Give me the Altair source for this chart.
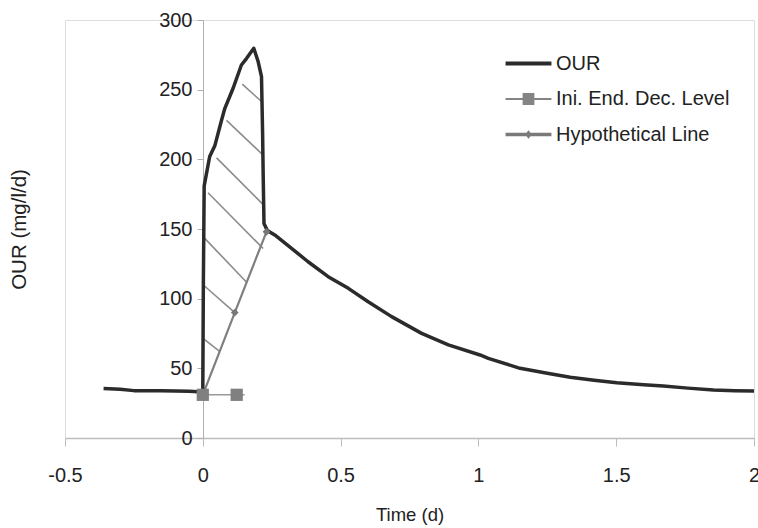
import altair as alt
import pandas as pd

FONT = "Liberation Sans"

# OUR curve
our_x = [-0.36, -0.3, -0.25, -0.15, -0.05, 0.0, 0.002, 0.005, 0.025, 0.044, 0.068, 0.08, 0.11, 0.14,
         0.159, 0.185, 0.201, 0.213, 0.217, 0.219, 0.222, 0.234, 0.261, 0.322, 0.382, 0.455, 0.528,
         0.6, 0.685, 0.794, 0.891, 1.006, 1.036, 1.151, 1.25, 1.333, 1.42, 1.502, 1.6, 1.671, 1.76,
         1.853, 1.93, 2.0]
our_y = [35.5, 35, 34, 34, 33.5, 33, 110, 181, 202, 210, 228, 236.6, 251, 267.7,
         272.5, 279.7, 270, 259.3, 218.7, 190, 154, 149, 145.7, 136.1, 126.5, 115.8, 107.4,
         97.8, 87.1, 75.1, 66.8, 59.6, 57.2, 50, 46.5, 43.6, 41.5, 39.7, 38.3, 37.3, 35.8,
         34.5, 34, 33.7]

# Initial / end decrease level
ini_x = [0.0, 0.123]
ini_y = [31, 31]
ini_line_x = [0.0, 0.152]

# Hypothetical line
hyp_x = [0.0, 0.116, 0.231]
hyp_y = [31, 90, 148]

# Hatching segments
hatch_x1 = [0.143, 0.086, 0.050, 0.019, 0.001, 0.001, 0.001]
hatch_y1 = [254, 228, 201, 176, 144.5, 110, 71.5]
hatch_x2 = [0.213, 0.219, 0.219, 0.219, 0.158, 0.116, 0.062]
hatch_y2 = [241.5, 203, 167.5, 136, 112, 90, 62]

series = ["OUR", "Ini. End. Dec. Level", "Hypothetical Line"]
series_colors = ["#2b2b2b", "#848484", "#7a7a7a"]
legend_paths = [
    "M-1.48,-0.13H1.48V0.13H-1.48Z",
    "M-1.48,-0.06H1.48V0.06H-1.48Z M-0.38,-0.38H0.38V0.38H-0.38Z",
    "M-1.48,-0.11H1.48V0.11H-1.48Z M0,-0.28L0.22,0L0,0.28L-0.22,0Z",
]

our_df = pd.DataFrame({"x": our_x, "y": our_y, "i": range(len(our_x))})
ini_df = pd.DataFrame({"x": ini_x, "y": ini_y})
ini_line_df = pd.DataFrame({"x": ini_line_x, "y": ini_y})
hyp_df = pd.DataFrame({"x": hyp_x, "y": hyp_y})
hatch_df = pd.DataFrame({"x": hatch_x1, "y": hatch_y1, "x2": hatch_x2, "y2": hatch_y2})
legend_df = pd.DataFrame({"series": series, "x": [0, 0, 0], "y": [0, 0, 0]})

xscale = alt.Scale(domain=[-0.5, 2], nice=False, zero=False)
yscale = alt.Scale(domain=[0, 300], nice=False)

xaxis = alt.Axis(
    title="Time (d)", values=[-0.5, 0, 0.5, 1, 1.5, 2], labelExpr="'' + datum.value", grid=False,
    domainColor="#bdbdbd", domainWidth=1.5, tickColor="#bdbdbd", tickSize=8, tickWidth=1,
    labelFont=FONT, labelFontSize=20, labelColor="#222222", labelPadding=19,
    labelFlush=False, labelOverlap=False,
    titleFont=FONT, titleFontSize=18.5, titleFontWeight="normal", titleColor="#222222",
    titleY=76, titleBaseline="middle",
)
yaxis = alt.Axis(
    title="OUR (mg/l/d)", values=[0, 50, 100, 150, 200, 250, 300], grid=False,
    offset=-138, domainColor="#b0b0b0", domainWidth=1, tickColor="#b0b0b0", tickSize=6,
    labelFont=FONT, labelFontSize=20, labelColor="#222222", labelPadding=5,
    labelFlush=False, labelOverlap=False,
    titleFont=FONT, titleFontSize=20.5, titleFontWeight="normal", titleColor="#222222",
    titleX=-184, titleY=209, titleAngle=270, titleAlign="center", titleBaseline="middle",
)

base_x = alt.X("x:Q", scale=xscale, axis=xaxis)
base_y = alt.Y("y:Q", scale=yscale, axis=yaxis)

hatch = alt.Chart(hatch_df).mark_rule(color="#8c8c8c", strokeWidth=1.6).encode(
    x=alt.X("x:Q", scale=xscale, axis=xaxis), y=alt.Y("y:Q", scale=yscale, axis=yaxis),
    x2="x2:Q", y2="y2:Q",
)

hyp_line = alt.Chart(hyp_df).mark_line(color="#7f7f7f", strokeWidth=2.2).encode(x=base_x, y=base_y)
hyp_pts = alt.Chart(hyp_df.iloc[1:]).mark_point(shape="diamond", filled=True, size=60, color="#777777", opacity=1).encode(x=base_x, y=base_y)

ini_line = alt.Chart(ini_line_df).mark_line(color="#9a9a9a", strokeWidth=1.5).encode(x=base_x, y=base_y)
ini_pts = alt.Chart(ini_df).mark_point(shape="square", filled=True, size=150, color="#808080", opacity=1).encode(x=base_x, y=base_y)

our_line = alt.Chart(our_df).mark_line(color="#2b2b2b", strokeWidth=3.5, strokeJoin="round").encode(
    x=base_x, y=base_y, order="i:Q"
)

leg = alt.Legend(title=None, orient="none", legendX=448, legendY=28,
                 symbolSize=961, symbolStrokeWidth=0, symbolOpacity=1,
                 labelFont=FONT, labelFontSize=20, labelColor="#222222", labelLimit=400,
                 labelOffset=12, rowPadding=9.5, padding=0)

legend_layer = alt.Chart(legend_df).transform_filter("false").mark_point(filled=True, opacity=1).encode(
    x=base_x, y=base_y,
    color=alt.Color("series:N", scale=alt.Scale(domain=series, range=series_colors), legend=leg),
    shape=alt.Shape("series:N", scale=alt.Scale(domain=series, range=legend_paths), legend=leg),
)

chart = alt.layer(hatch, hyp_line, ini_line, our_line, ini_pts, hyp_pts, legend_layer).properties(
    width=689, height=418, autosize="none",
    padding={"left": 65, "top": 20, "right": 4, "bottom": 90},
).configure_view(stroke="#c4c4c4", strokeWidth=1.5).configure(background="white")

chart.save("out.html", embed_options={"renderer": "svg", "actions": False})
